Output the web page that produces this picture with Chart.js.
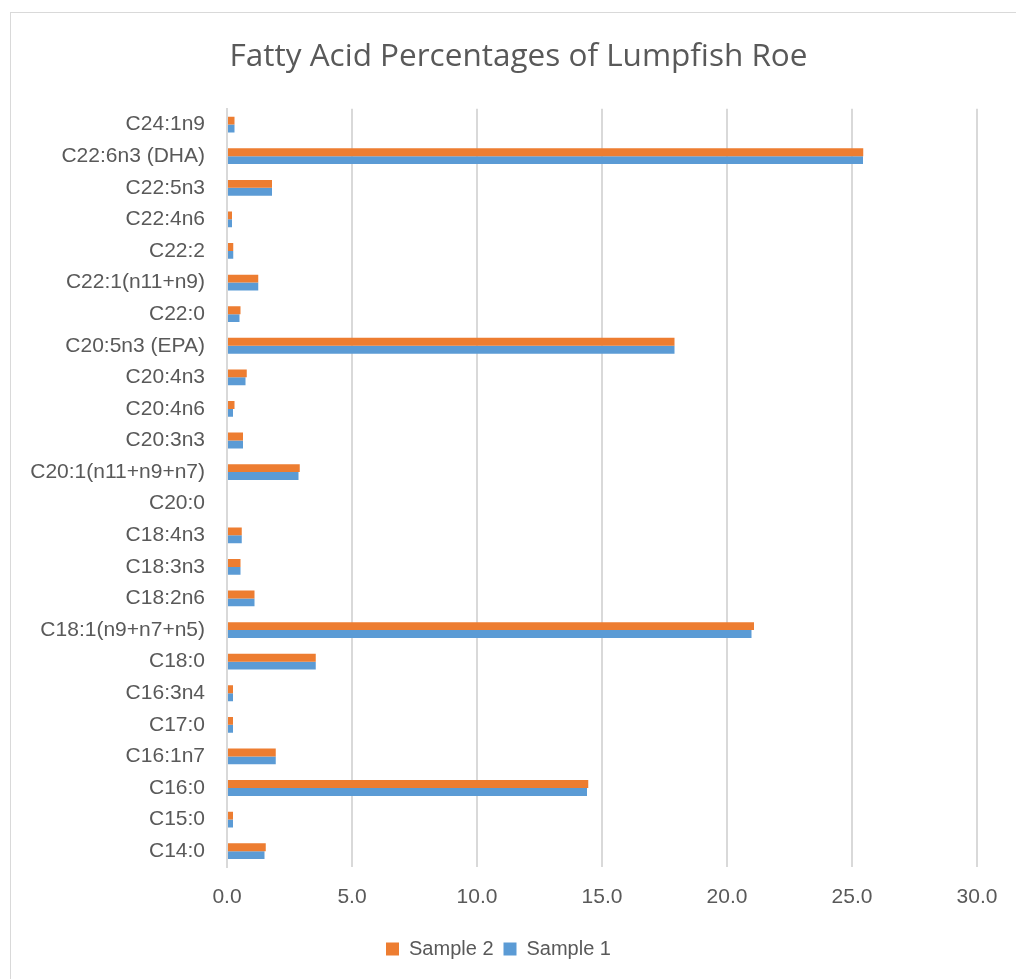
<!DOCTYPE html>
<html>
<head>
<meta charset="utf-8">
<script src="https://cdn.jsdelivr.net/npm/chart.js@4.4.0/dist/chart.umd.min.js"></script>
<style>
  html, body { margin: 0; padding: 0; background: #fff; }
  #frame { position: absolute; left: 10px; top: 12px; width: 1020px; height: 980px; border: 1px solid #d9d9d9; }
  #wrap { position: absolute; left: 0; top: 0; width: 1016px; height: 979px; }
</style>
</head>
<body>
<div id="frame"></div>
<div id="wrap"><canvas id="chart"></canvas></div>
<script>
// 脂肪酸名称（从上到下）
const labels = [
    'C24:1n9', 'C22:6n3 (DHA)', 'C22:5n3', 'C22:4n6', 'C22:2', 'C22:1(n11+n9)',
    'C22:0', 'C20:5n3 (EPA)', 'C20:4n3', 'C20:4n6', 'C20:3n3', 'C20:1(n11+n9+n7)',
    'C20:0', 'C18:4n3', 'C18:3n3', 'C18:2n6', 'C18:1(n9+n7+n5)', 'C18:0',
    'C16:3n4', 'C17:0', 'C16:1n7', 'C16:0', 'C15:0', 'C14:0'
];

// 百分比数据
const sample2 = [
    0.3, 25.45, 1.8, 0.2, 0.25, 1.25,
    0.54, 17.9, 0.79, 0.3, 0.64, 2.91,
    0, 0.59, 0.54, 1.1, 21.08, 3.55,
    0.24, 0.24, 1.95, 14.45, 0.24, 1.55
];
const sample1 = [
    0.3, 25.44, 1.8, 0.2, 0.25, 1.25,
    0.5, 17.9, 0.74, 0.24, 0.64, 2.86,
    0, 0.59, 0.54, 1.1, 20.98, 3.55,
    0.24, 0.24, 1.95, 14.4, 0.24, 1.5
];

const xTicks = [0, 5, 10, 15, 20, 25, 30];

const textColor = '#595959';
const gridColor = '#d9d9d9';

// 标题稍微右移，和原图对齐
const shiftTitle = {
    id: 'shiftTitle',
    afterLayout: function(chart) {
        const t = chart.titleBlock;
        if (t) { t.left += 20; t.right += 20; }
    }
};

new Chart(document.getElementById('chart'), {
    type: 'bar',
    data: {
        labels: labels,
        datasets: [{
            label: 'Sample 2',
            data: sample2,
            backgroundColor: '#ED7D31',
            borderWidth: 0
        }, {
            label: 'Sample 1',
            data: sample1,
            backgroundColor: '#5B9BD5',
            borderWidth: 0
        }]
    },
    options: {
        indexAxis: 'y',
        responsive: true,
        maintainAspectRatio: false,
        animation: false,
        categoryPercentage: 0.5,
        barPercentage: 1.0,
        layout: {
            padding: { left: 20, right: 39, top: 38, bottom: 10 }
        },
        plugins: {
            title: {
                display: true,
                text: 'Fatty Acid Percentages of Lumpfish Roe',
                color: textColor,
                font: { family: 'Open Sans', size: 31.5, weight: 'normal' },
                padding: { top: 0, bottom: 33 }
            },
            legend: {
                position: 'bottom',
                labels: {
                    color: textColor,
                    boxWidth: 13,
                    boxHeight: 13,
                    padding: 10,
                    font: { family: 'Liberation Sans', size: 20 }
                }
            },
            tooltip: { enabled: false }
        },
        scales: {
            x: {
                min: 0,
                max: 30,
                afterBuildTicks: function(scale) {
                    scale.ticks = xTicks.map(function(v) { return { value: v }; });
                },
                afterFit: function(scale) { scale.height = 62; },
                grid: {
                    color: gridColor,
                    lineWidth: 2,
                    drawTicks: false
                },
                border: { display: false },
                ticks: {
                    color: textColor,
                    padding: 18,
                    maxRotation: 0,
                    font: { family: 'Liberation Sans', size: 21 },
                    callback: function(value) { return Number(value).toFixed(1); }
                }
            },
            y: {
                afterFit: function(scale) { scale.width = 207; },
                grid: { display: false, drawTicks: false },
                border: { display: true, color: gridColor, width: 2 },
                ticks: {
                    color: textColor,
                    padding: 22,
                    autoSkip: false,
                    font: { family: 'Liberation Sans', size: 21 }
                }
            }
        }
    },
    plugins: [shiftTitle]
});
</script>
</body>
</html>
